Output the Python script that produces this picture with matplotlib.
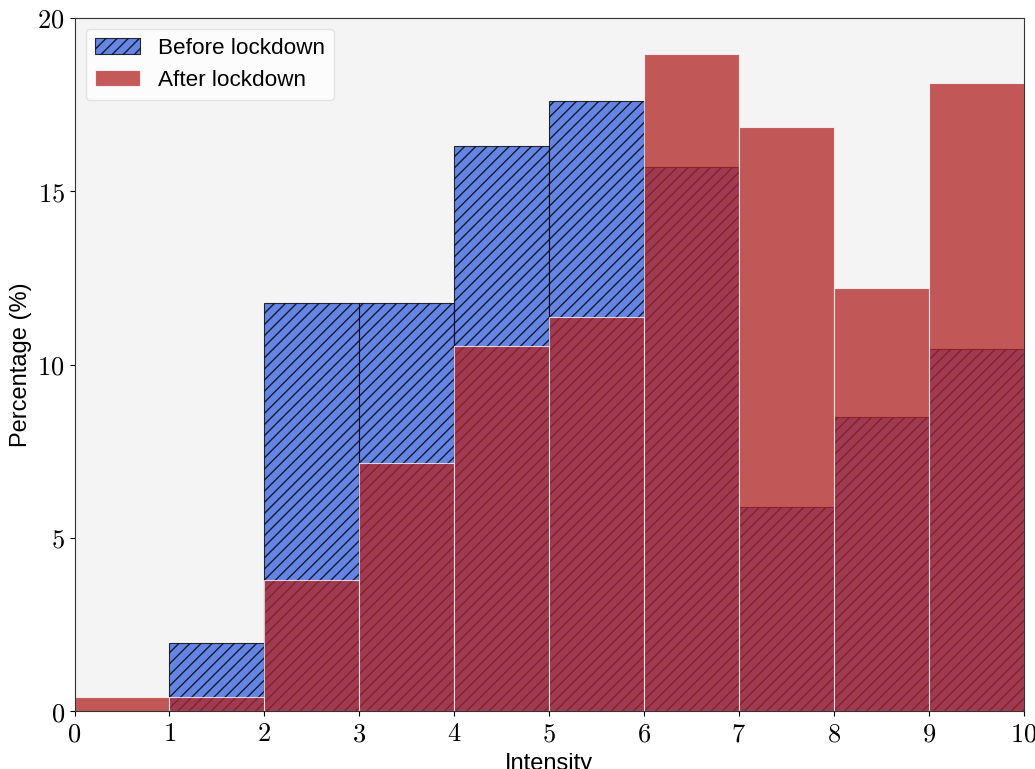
import numpy as np
import matplotlib.pyplot as plt

plt.rcParams['mathtext.fontset'] = 'cm'

bin_edges = [0, 1, 2, 3, 4, 5, 6, 7, 8, 9, 10]
before = [0.0, 1.96, 11.78, 11.78, 16.31, 17.60, 15.70, 5.89, 8.48, 10.45]
after = [0.40, 0.40, 3.78, 7.16, 10.53, 11.37, 18.96, 16.85, 12.21, 18.12]
yticks = [0, 5, 10, 15, 20]

fig, ax = plt.subplots(figsize=(10.35, 7.69), dpi=100)
ax.set_facecolor('#f4f4f4')

left = bin_edges[:-1]
ax.bar(left, before, width=1, align='edge', color='royalblue', alpha=0.8,
       edgecolor='black', hatch='///', linewidth=0.8, label='Before lockdown')
ax.bar(left, after, width=1, align='edge', color='firebrick', alpha=0.75,
       edgecolor='white', linewidth=0.8, label='After lockdown')

ax.set_xlim(0, 10)
ax.set_ylim(0, 20)
ax.set_xticks(bin_edges)
ax.set_xticklabels([f'${v}$' for v in bin_edges], fontsize=19)
ax.set_yticks(yticks)
ax.set_yticklabels([f'${v}$' for v in yticks], fontsize=19)
ax.set_xlabel('Intensity', fontsize=17, family='Liberation Sans')
ax.set_ylabel('Percentage (%)', fontsize=17, family='Liberation Sans')
for s in ax.spines.values():
    s.set_color('#333333')

leg = ax.legend(loc='upper left', prop={'family': 'Liberation Sans', 'size': 16.2},
                frameon=True, fancybox=True)
leg.get_frame().set_facecolor('white')
leg.get_frame().set_edgecolor('#dddddd')

plt.subplots_adjust(left=0.072, right=0.989, top=0.977, bottom=0.075)
plt.savefig('out.png')
